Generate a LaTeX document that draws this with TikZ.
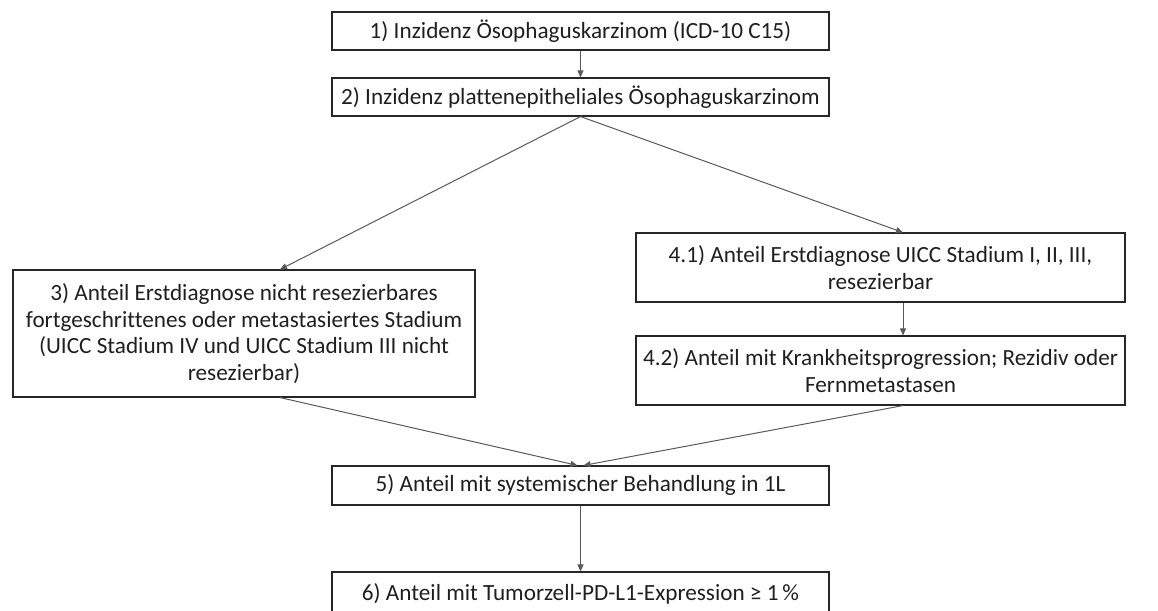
\documentclass[tikz,border=0pt]{standalone}
\usepackage{fontspec}
\setmainfont{Carlito}[Ligatures=CommonOff]
\usetikzlibrary{arrows.meta}

\begin{document}
\begin{tikzpicture}[x=1pt,y=-1pt,
    box/.style={draw=black!85, line width=1.1pt, inner sep=0pt, align=center,
      font=\fontsize{23.2}{26.7}\selectfont, text=black!88},
    conn/.style={draw=black!65, line width=1pt, -{Triangle[length=7pt,width=6pt]}}]
  \useasboundingbox (0,0) rectangle (1158,610);
  % boxes
  \node[box, minimum width=497pt, minimum height=38pt] at (580.5,31) (inz) {1) Inzidenz Ösophaguskarzinom (ICD-10 C15)};
  \node[box, minimum width=497pt, minimum height=38pt] at (580.5,97) (pe) {2) Inzidenz plattenepitheliales Ösophaguskarzinom};
  \node[box, minimum width=462pt, minimum height=127pt] at (244,333.5) (fort) {3) Anteil Erstdiagnose nicht resezierbares\\fortgeschrittenes oder metastasiertes Stadium\\(UICC Stadium IV und UICC Stadium III nicht\\resezierbar)};
  \node[box, minimum width=489pt, minimum height=69pt] at (880.5,267.5) (res) {4.1) Anteil Erstdiagnose UICC Stadium I, II, III,\\resezierbar};
  \node[box, minimum width=489pt, minimum height=69pt] at (880.5,370.5) (prog) {4.2) Anteil mit Krankheitsprogression; Rezidiv oder\\Fernmetastasen};
  \node[box, minimum width=497pt, minimum height=39pt] at (580.5,485.5) (sys) {5) Anteil mit systemischer Behandlung in 1L};
  \node[box, minimum width=497pt, minimum height=44pt] at (580.5,594) (pdl) {6) Anteil mit Tumorzell-PD-L1-Expression ≥ 1\,\%};
  % connectors
  \draw[conn] (inz) -- (pe);
  \draw[conn] (pe.south) -- ([xshift=36pt]fort.north);
  \draw[conn] (pe.south) -- ([xshift=22.5pt]res.north);
  \draw[conn] ([xshift=22.5pt]res.south) -- ([xshift=22.5pt]prog.north);
  \draw[conn] ([xshift=36pt]fort.south) -- ([xshift=-3pt]sys.north);
  \draw[conn] ([xshift=22.5pt]prog.south) -- ([xshift=3pt]sys.north);
  \draw[conn] (sys) -- (pdl);
\end{tikzpicture}
\end{document}
